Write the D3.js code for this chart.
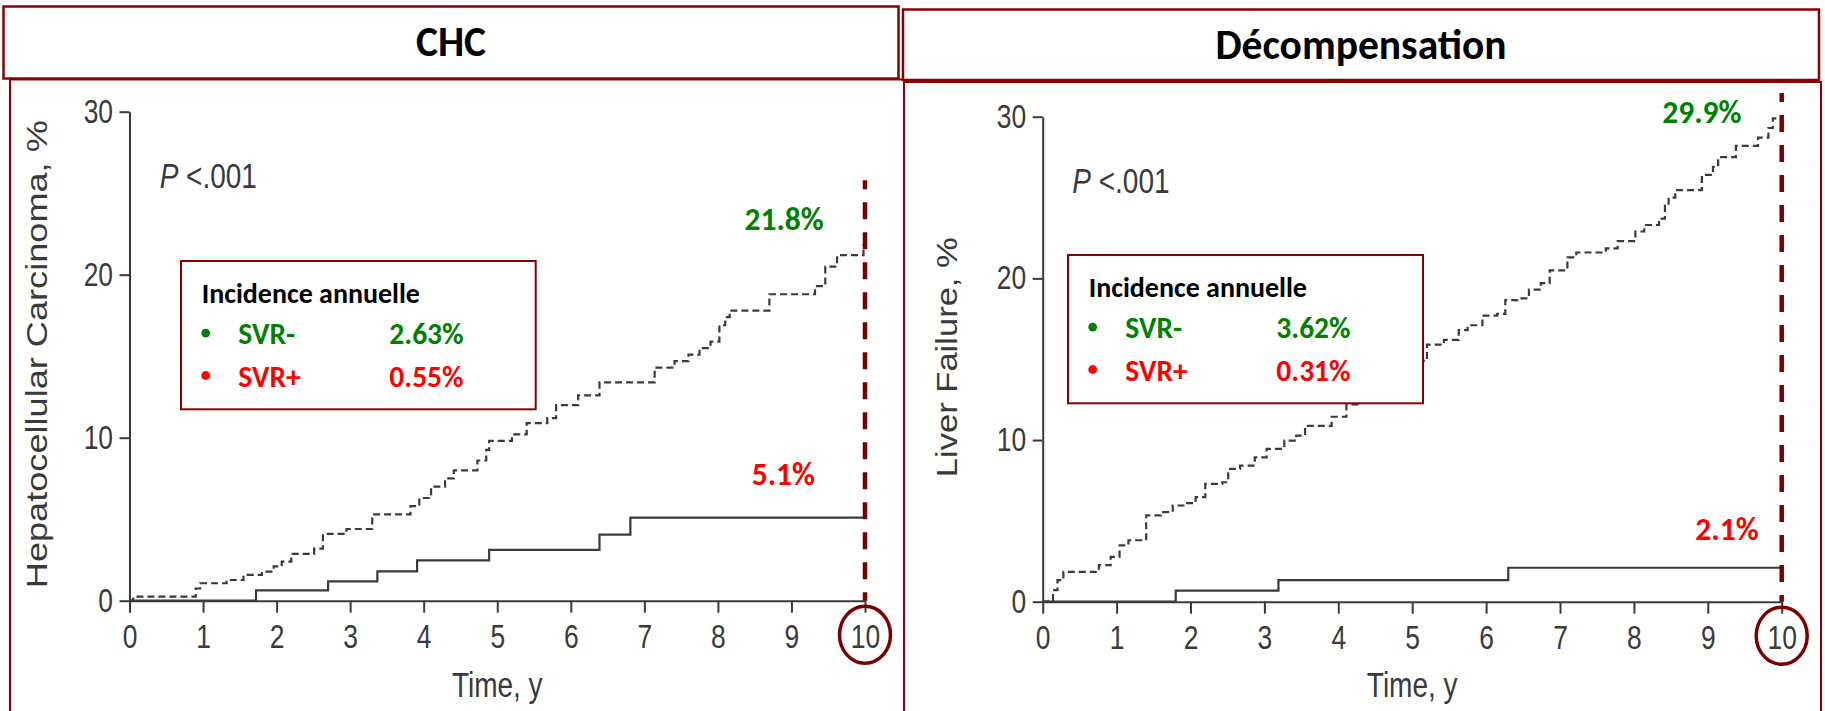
<!DOCTYPE html>
<html>
<head>
<meta charset="utf-8">
<script src="https://cdn.jsdelivr.net/npm/d3@7"></script>
<style>
  html, body { margin: 0; padding: 0; background: #fff; }
  svg { display: block; }
</style>
</head>
<body>
<svg id="chart" width="1825" height="711"></svg>
<script>
// ---------- data ----------
const timeTicks = [0, 1, 2, 3, 4, 5, 6, 7, 8, 9, 10];
const pctTicks = [0, 10, 20, 30];
const panelTitles = ["CHC", "Décompensation"];
const yAxisTitles = ["Hepatocellular Carcinoma, %", "Liver Failure, %"];
const xAxisTitle = "Time, y";
const pValueText = "<.001";
const legendTitle = "Incidence annuelle";
const seriesNames = ["SVR-", "SVR+"];
const seriesColors = ["#008000", "#ff0000"];
const annualIncidenceCHC = [2.63, 0.55];
const annualIncidenceDecomp = [3.62, 0.31];

// cumulative incidence, [year, %], step changes
const chcSvrNeg = [[0,0],[0.05,0.25],[0.9,0.75],[0.96,1.07],[1.32,1.27],[1.55,1.58],[1.8,1.78],[1.96,2.1],[2.07,2.4],[2.2,2.87],[2.51,3.2],[2.63,4.1],[2.95,4.4],[3.3,5.3],[3.82,5.8],[3.94,6.3],[4.1,7.0],[4.29,7.5],[4.41,8.0],[4.73,8.6],[4.85,9.25],[4.89,9.8],[5.2,10.2],[5.4,10.9],[5.68,11.2],[5.8,12.0],[6.1,12.6],[6.39,13.4],[7.14,14.3],[7.41,14.7],[7.6,15.1],[7.75,15.5],[7.9,15.9],[8.02,16.9],[8.1,17.4],[8.16,17.8],[8.7,18.8],[9.32,19.3],[9.46,20.5],[9.62,21.2],[9.98,21.8]];
const chcSvrPos = [[0,0],[1.72,0.63],[2.7,1.18],[3.37,1.8],[3.91,2.47],[4.89,3.12],[6.39,4.05],[6.81,5.1]];
const decompSvrNeg = [[0,0],[0.08,0.06],[0.14,0.72],[0.2,1.33],[0.28,1.85],[0.76,2.26],[0.92,2.77],[1.04,3.49],[1.16,3.8],[1.4,5.34],[1.6,5.54],[1.76,5.95],[1.92,6.1],[2.07,6.47],[2.2,7.29],[2.43,7.39],[2.51,8.21],[2.67,8.42],[2.87,8.93],[3.03,9.45],[3.27,9.96],[3.43,10.27],[3.55,10.88],[3.91,11.44],[4.11,12.2],[4.3,12.6],[4.5,13.0],[4.7,13.5],[4.9,14.2],[5.05,14.9],[5.2,15.9],[5.43,16.2],[5.63,16.8],[5.75,17.1],[5.95,17.7],[6.15,17.8],[6.26,18.65],[6.42,18.76],[6.58,19.3],[6.74,19.7],[6.86,20.5],[7.1,21.3],[7.22,21.6],[7.62,21.85],[7.78,22.3],[8.02,22.9],[8.14,23.3],[8.34,23.7],[8.42,24.5],[8.47,25.0],[8.56,25.46],[8.92,26.4],[9.07,26.9],[9.14,27.5],[9.38,28.2],[9.68,28.7],[9.82,29.3],[9.88,29.9]];
const decompSvrPos = [[0,0],[1.8,0.68],[3.19,1.33],[6.3,2.1]];

// ---------- styling ----------
const FRAME = "#8b0000";
const MARK = "#7a0000";
const INK = "#3a3a3a";
const AXIS_FONT = "'Liberation Sans', Arial, Helvetica, sans-serif";
const TEXT_FONT = "Carlito, Lato, 'Open Sans', sans-serif";
const NARROW = 0.8;   // condensed look of the axis lettering

const panels = [
  {
    title: panelTitles[0], yTitle: yAxisTitles[0], incidence: annualIncidenceCHC,
    neg: chcSvrNeg, pos: chcSvrPos,
    titleBox: { x: 3.5, y: 6.5, w: 895, h: 72 }, titleBaseline: 56,
    frame: { x: 10, y: 79.5, w: 894, h: 700 },
    plot: { x0: 129.5, x1: 865, y0: 600.7, y1: 111.7 },
    yTitleX: 47, yTitleLen: 468,
    legend: { x: 181, y: 261, w: 354.7, h: 148.3 },
    pText: { t: 0.41, y: 188 },
    refTop: 25.8,
    negLabel: { t: 8.9, dy: -15.4 }, posLabel: { t: 8.89, dy: -32.6 }
  },
  {
    title: panelTitles[1], yTitle: yAxisTitles[1], incidence: annualIncidenceDecomp,
    neg: decompSvrNeg, pos: decompSvrPos,
    titleBox: { x: 903, y: 9.5, w: 916, h: 70.5 }, titleBaseline: 59,
    frame: { x: 904, y: 82, w: 917, h: 700 },
    plot: { x0: 1042.7, x1: 1781.7, y0: 601.7, y1: 116.7 },
    yTitleX: 957, yTitleLen: 240,
    legend: { x: 1068, y: 255, w: 355, h: 148.3 },
    pText: { t: 0.4, y: 193 },
    refTop: 31.46,
    negLabel: { t: 8.92, dy: 4.4 }, posLabel: { t: 9.26, dy: -27.7 }
  }
];

const svg = d3.select("#chart");
svg.append("rect").attr("width", 1825).attr("height", 711).attr("fill", "#fff");

function scaledText(parent, x, y, kx) {
  return parent.append("g")
    .attr("transform", `translate(${x},${y}) scale(${kx},1)`)
    .append("text");
}

panels.forEach(p => {
  const g = svg.append("g");
  const x = d3.scaleLinear().domain([0, 10]).range([p.plot.x0, p.plot.x1]);
  const y = d3.scaleLinear().domain([0, 30]).range([p.plot.y0, p.plot.y1]);

  // frames
  g.append("rect").attr("x", p.frame.x).attr("y", p.frame.y)
    .attr("width", p.frame.w).attr("height", p.frame.h)
    .attr("fill", "none").attr("stroke", FRAME).attr("stroke-width", 2);
  g.append("rect").attr("x", p.titleBox.x).attr("y", p.titleBox.y)
    .attr("width", p.titleBox.w).attr("height", p.titleBox.h)
    .attr("fill", "#fff").attr("stroke", FRAME).attr("stroke-width", 2.5);

  g.append("text")
    .attr("x", p.titleBox.x + p.titleBox.w / 2).attr("y", p.titleBaseline)
    .attr("text-anchor", "middle")
    .attr("font-family", TEXT_FONT).attr("font-weight", 700)
    .attr("font-size", 41.5).attr("fill", "#000")
    .text(p.title);

  // axes
  const gx = g.append("g")
    .attr("transform", `translate(0,${p.plot.y0})`)
    .call(d3.axisBottom(x).tickValues(timeTicks).tickSize(12).tickSizeOuter(0).tickFormat(d3.format("d")));
  const gy = g.append("g")
    .attr("transform", `translate(${p.plot.x0},0)`)
    .call(d3.axisLeft(y).tickValues(pctTicks).tickSize(10).tickSizeOuter(0).tickFormat(d3.format("d")));

  [gx, gy].forEach(a => {
    a.attr("font-family", AXIS_FONT).attr("font-size", 33);
    a.select(".domain").attr("stroke", INK).attr("stroke-width", 2);
    a.selectAll(".tick line").attr("stroke", INK).attr("stroke-width", 2);
    a.selectAll(".tick text").attr("fill", INK);
  });
  gx.selectAll(".tick text").attr("y", 47.5).attr("dy", null)
    .attr("transform", `scale(${NARROW},1)`);
  gy.selectAll(".tick text").attr("x", -16.5 / NARROW)
    .attr("transform", `scale(${NARROW},1)`);

  // axis titles
  scaledText(g, (p.plot.x0 + p.plot.x1) / 2, 696.5, NARROW)
    .attr("text-anchor", "middle")
    .attr("font-family", AXIS_FONT).attr("font-size", 35).attr("fill", INK)
    .text(xAxisTitle);

  g.append("text")
    .attr("transform", `translate(${p.yTitleX},${(p.plot.y0 + p.plot.y1) / 2 - 2}) rotate(-90)`)
    .attr("text-anchor", "middle")
    .attr("font-family", AXIS_FONT).attr("font-size", 29).attr("fill", INK)
    .attr("textLength", p.yTitleLen).attr("lengthAdjust", "spacingAndGlyphs")
    .text(p.yTitle);

  // P value
  const pt = scaledText(g, x(p.pText.t), p.pText.y, NARROW)
    .attr("font-family", AXIS_FONT).attr("font-size", 35).attr("fill", INK);
  pt.append("tspan").attr("font-style", "italic").text("P");
  pt.append("tspan").text(" " + pValueText);

  // cumulative incidence curves
  const step = d3.line().x(d => x(d[0])).y(d => y(d[1])).curve(d3.curveStepAfter);
  const extend = s => s.concat([[10, s[s.length - 1][1]]]);

  g.append("path").datum(extend(p.pos))
    .attr("d", step).attr("fill", "none")
    .attr("stroke", INK).attr("stroke-width", 2.2);
  g.append("path").datum(extend(p.neg))
    .attr("d", step).attr("fill", "none")
    .attr("stroke", INK).attr("stroke-width", 2.2)
    .attr("stroke-dasharray", "7,4");

  // legend
  const lg = g.append("g").attr("transform", `translate(${p.legend.x},${p.legend.y})`);
  lg.append("rect").attr("width", p.legend.w).attr("height", p.legend.h)
    .attr("fill", "#fff").attr("stroke", FRAME).attr("stroke-width", 2);
  lg.append("text").attr("x", 20.7).attr("y", 41.7)
    .attr("font-family", TEXT_FONT).attr("font-weight", 700)
    .attr("font-size", 28).attr("fill", "#000")
    .text(legendTitle);
  const rowBase = [83.3, 125.7];
  seriesNames.forEach((name, i) => {
    lg.append("circle").attr("cx", 24.7).attr("cy", rowBase[i] - 11.2).attr("r", 4.4)
      .attr("fill", seriesColors[i]);
    lg.append("text").attr("x", 57.3).attr("y", rowBase[i])
      .attr("font-family", TEXT_FONT).attr("font-weight", 700)
      .attr("font-size", 29.5).attr("fill", seriesColors[i])
      .text(name);
    lg.append("text").attr("x", 208.3).attr("y", rowBase[i])
      .attr("font-family", TEXT_FONT).attr("font-weight", 700)
      .attr("font-size", 29.5).attr("fill", seriesColors[i])
      .text(d3.format(".2f")(p.incidence[i]) + "%");
  });

  // 10-year values
  const fmt = v => d3.format(".1f")(v) + "%";
  const lastNeg = p.neg[p.neg.length - 1][1];
  const lastPos = p.pos[p.pos.length - 1][1];
  g.append("text")
    .attr("x", x(p.negLabel.t)).attr("y", y(lastNeg) + p.negLabel.dy)
    .attr("text-anchor", "middle")
    .attr("font-family", TEXT_FONT).attr("font-weight", 700)
    .attr("font-size", 31.5).attr("fill", seriesColors[0])
    .text(fmt(lastNeg));
  g.append("text")
    .attr("x", x(p.posLabel.t)).attr("y", y(lastPos) + p.posLabel.dy)
    .attr("text-anchor", "middle")
    .attr("font-family", TEXT_FONT).attr("font-weight", 700)
    .attr("font-size", 31.5).attr("fill", seriesColors[1])
    .text(fmt(lastPos));

  // 10-year reference line and highlighted tick
  g.append("line")
    .attr("x1", x(10)).attr("x2", x(10))
    .attr("y1", y(p.refTop)).attr("y2", y(0))
    .attr("stroke", MARK).attr("stroke-width", 4.5)
    .attr("stroke-dasharray", "17,13").attr("stroke-dashoffset", 8);
  g.append("ellipse")
    .attr("cx", x(10)).attr("cy", y(0) + 34)
    .attr("rx", 25.5).attr("ry", 28.5)
    .attr("fill", "none").attr("stroke", MARK).attr("stroke-width", 3.5);
});
</script>
</body>
</html>
